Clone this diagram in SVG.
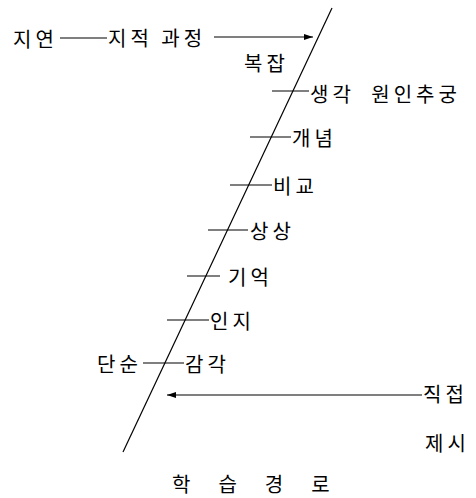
<svg xmlns="http://www.w3.org/2000/svg" width="476" height="498" viewBox="0 0 476 498">
<defs>
<marker id="arr" markerWidth="10" markerHeight="8" refX="9" refY="4" orient="auto-start-reverse" markerUnits="userSpaceOnUse">
<path d="M0,1 L9,4 L0,7 Z" fill="#000"/>
</marker>
<style>
.t{font-family:"Noto Sans CJK KR","Noto Sans",sans-serif;font-size:20px;fill:#000;dominant-baseline:central;letter-spacing:4px}
.l{stroke:#000;stroke-width:1.2;fill:none}
</style>
</defs>
<rect width="476" height="498" fill="#fff"/>
<g id="connectors">
<line class="l" x1="332" y1="8" x2="123" y2="452"/>
<line class="l" x1="60" y1="38" x2="107" y2="38"/>
<line class="l" x1="214" y1="37" x2="313" y2="37" marker-end="url(#arr)"/>
<line class="l" x1="272" y1="91" x2="309" y2="91"/>
<line class="l" x1="250" y1="137" x2="291" y2="137"/>
<line class="l" x1="230" y1="185" x2="272" y2="185"/>
<line class="l" x1="208" y1="230" x2="248" y2="230"/>
<line class="l" x1="187" y1="276" x2="220" y2="276"/>
<line class="l" x1="167" y1="320" x2="209" y2="320"/>
<line class="l" x1="143" y1="363" x2="184" y2="363"/>
<line class="l" x1="422" y1="395" x2="167" y2="395" marker-end="url(#arr)"/>
</g>
<g id="n-jiyeon"><text class="t" x="13" y="38">지연</text></g>
<g id="n-jijeok"><text class="t" x="108" y="37">지적 과정</text></g>
<g id="n-bokjap"><text class="t" x="244" y="62">복잡</text></g>
<g id="n-saenggak"><text class="t" x="310" y="93" style="word-spacing:8px">생각 원인추궁</text></g>
<g id="n-gaenyeom"><text class="t" x="292" y="137">개념</text></g>
<g id="n-bigyo"><text class="t" x="273" y="185">비교</text></g>
<g id="n-sangsang"><text class="t" x="250" y="230">상상</text></g>
<g id="n-gieok"><text class="t" x="228" y="276">기억</text></g>
<g id="n-inji"><text class="t" x="210" y="320">인지</text></g>
<g id="n-dansun"><text class="t" x="97" y="363">단순</text></g>
<g id="n-gamgak"><text class="t" x="185" y="363">감각</text></g>
<g id="n-jikjeop"><text class="t" x="423" y="393">직접</text></g>
<g id="n-jesi"><text class="t" x="425" y="442">제시</text></g>
<g id="title"><text class="t" x="172" y="483" style="letter-spacing:28px">학습경로</text></g>
</svg>
